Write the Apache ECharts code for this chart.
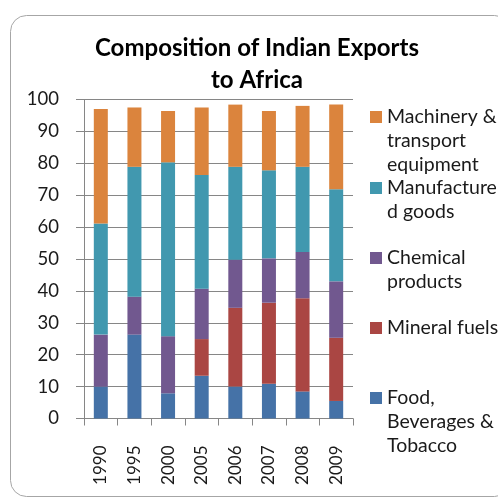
<!DOCTYPE html>
<html>
<head>
<meta charset="utf-8">
<script src="https://cdn.jsdelivr.net/npm/echarts@6/dist/echarts.min.js"></script>
<style>
  html, body { margin: 0; padding: 0; background: #ffffff; }
  #chart { width: 498px; height: 502px; }
</style>
</head>
<body>
<div id="chart"></div>
<script>
// ---- data ----
const years = ['1990', '1995', '2000', '2005', '2006', '2007', '2008', '2009'];
const foodBeverages = [10.0, 26.3, 7.9, 13.4, 10.0, 10.9, 8.5, 5.5];
const mineralFuels = [0, 0, 0, 11.5, 24.7, 25.4, 29.2, 19.8];
const chemicalProducts = [16.3, 11.9, 17.9, 15.8, 15.1, 13.9, 14.5, 17.7];
const manufacturedGoods = [34.8, 40.7, 54.5, 35.6, 29.1, 27.6, 26.7, 28.9];
const machineryTransport = [35.9, 18.6, 16.1, 21.2, 19.5, 18.6, 19.1, 26.5];
const yTicks = [0, 10, 20, 30, 40, 50, 60, 70, 80, 90, 100];

const seriesNames = [
  'Food, Beverages & Tobacco',
  'Mineral fuels',
  'Chemical products',
  'Manufactured goods',
  'Machinery & transport equipment'
];
const legendLabels = {
  'Machinery & transport equipment': 'Machinery &\ntransport\nequipment',
  'Manufactured goods': 'Manufacture\nd goods',
  'Chemical products': 'Chemical\nproducts',
  'Mineral fuels': 'Mineral fuels',
  'Food, Beverages & Tobacco': 'Food,\nBeverages &\nTobacco'
};
const seriesData = [foodBeverages, mineralFuels, chemicalProducts, manufacturedGoods, machineryTransport];
const colors = ['#4572A7', '#AA4643', '#71588F', '#4198AF', '#DB843D'];

const FONT = 'Lato';
const LINE_H = 24;
const SQ = 12;

// one legend block per item so each can sit where the reference places it
const legendCenters = {
  'Machinery & transport equipment': 117,
  'Manufactured goods': 188,
  'Chemical products': 258,
  'Mineral fuels': 328,
  'Food, Beverages & Tobacco': 398
};
const legends = seriesNames.slice().reverse().map(function (name) {
  const nLines = legendLabels[name].split('\n').length;
  const h = SQ + (nLines - 1) * LINE_H;
  // square sits at the top of a tall icon box so it lines up with the first text line
  const icon = 'path://M0,0H' + SQ + 'V' + SQ + 'H0Z M0,' + h + 'L' + SQ + ',' + h;
  return {
    data: [name],
    left: 370,
    top: legendCenters[name] - 12,
    padding: 0,
    icon: icon,
    itemWidth: SQ,
    itemHeight: h,
    selectedMode: false,
    formatter: function (n) { return legendLabels[n]; },
    textStyle: {
      fontFamily: FONT,
      fontSize: 19.5,
      color: '#1a1a1a',
      lineHeight: LINE_H
    }
  };
});

const chart = echarts.init(document.getElementById('chart'), null, { renderer: 'canvas' });
chart.setOption({
  animation: false,
  color: colors,
  title: {
    text: 'Composition of Indian Exports\nto Africa',
    left: 257,
    top: 32,
    textAlign: 'center',
    padding: 0,
    textStyle: {
      fontFamily: FONT,
      fontWeight: 'bold',
      fontSize: 24,
      lineHeight: 32,
      color: '#000000'
    }
  },
  graphic: [{
    type: 'rect',
    shape: { x: 10.5, y: 15.5, width: 500, height: 481, r: 16 },
    style: { fill: 'none', stroke: '#a6a6a6', lineWidth: 1 },
    silent: true,
    z: -1
  }],
  legend: legends,
  grid: { left: 84, right: 145, top: 99.5, bottom: 83.5, containLabel: false },
  xAxis: {
    type: 'category',
    data: years,
    axisLine: { lineStyle: { color: '#868686', width: 1 } },
    axisTick: { show: true, alignWithLabel: false, length: 7, lineStyle: { color: '#868686' } },
    axisLabel: {
      rotate: 90,
      margin: 27,
      fontFamily: FONT,
      fontSize: 17,
      color: '#1a1a1a'
    }
  },
  yAxis: {
    type: 'value',
    min: yTicks[0],
    max: yTicks[yTicks.length - 1],
    interval: yTicks[1] - yTicks[0],
    axisLine: { show: true, lineStyle: { color: '#868686', width: 1 } },
    axisTick: { show: true, length: 8, lineStyle: { color: '#868686' } },
    splitLine: { show: true, lineStyle: { color: '#868686', width: 1 } },
    axisLabel: {
      margin: 25,
      fontFamily: FONT,
      fontSize: 18.5,
      color: '#1a1a1a'
    }
  },
  series: seriesNames.map(function (name, i) {
    return {
      name: name,
      type: 'bar',
      stack: 'total',
      barWidth: 14,
      data: seriesData[i],
      itemStyle: { color: colors[i] }
    };
  })
});
</script>
</body>
</html>
